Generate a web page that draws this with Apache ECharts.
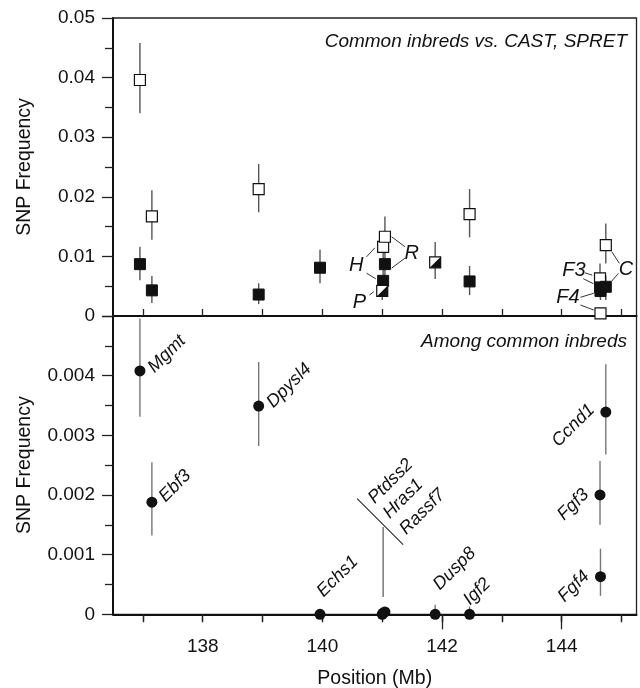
<!DOCTYPE html>
<html>
<head>
<meta charset="utf-8">
<script src="https://cdn.jsdelivr.net/npm/echarts@6/dist/echarts.min.js"></script>
<style>
  html, body { margin: 0; padding: 0; background: #fff; }
  #chart { width: 640px; height: 688px; }
</style>
</head>
<body>
<div id="chart"></div>
<script>
// genes along the chromosome, position in Mb
const genes = ['Mgmt', 'Ebf3', 'Dpysl4', 'Echs1', 'Ptdss2', 'Hras1', 'Rassf7', 'Dusp8', 'Igf2', 'Fgf4', 'Fgf3', 'Ccnd1']
const positions = [136.95, 137.15, 138.935, 139.96, 141.0, 141.015, 141.045, 141.885, 142.46, 144.648, 144.64, 144.737]

// top panel: common inbreds vs CAST (open squares)
const castFreq = [0.0396, 0.0167, 0.0213, null, null, 0.0116, 0.0133, null, 0.0171, 0.00045, 0.0063, 0.0119]
const castLow  = [0.0340, 0.0128, 0.0174, null, null, 0.0093, 0.0105, null, 0.0132, 0.0001, 0.0042, 0.0088]
const castHigh = [0.0458, 0.0211, 0.0255, null, null, 0.0142, 0.0167, null, 0.0213, 0.0010, 0.0088, 0.0155]
// vs SPRET (filled squares)
const spretFreq = [0.0087, 0.0043, 0.0036, 0.0081, null, 0.0059, 0.0087, null, 0.0058, 0.0042, 0.0048, 0.0049]
const spretLow  = [0.0060, 0.0022, 0.0020, 0.0055, null, 0.0040, 0.0064, null, 0.0035, 0.0027, 0.0031, 0.0027]
const spretHigh = [0.0116, 0.0067, 0.0055, 0.0111, null, 0.0083, 0.0113, null, 0.0084, 0.0061, 0.0067, 0.0068]
// same value for both (half-filled squares)
const bothFreq = [null, null, null, null, 0.0042, null, null, 0.0090, null, null, null, null]
const bothLow  = [null, null, null, null, 0.0027, null, null, 0.0062, null, null, null, null]
const bothHigh = [null, null, null, null, 0.0060, null, null, 0.0124, null, null, null, null]

// bottom panel: among common inbreds
const inbredFreq = [0.00408, 0.00188, 0.00349, 0, 0, 0.00002, 0.00004, 0, 0, 0.00063, 0.0020, 0.00339]
const inbredLow  = [0.00331, 0.00132, 0.00282, null, null, null, null, 0, 0, 0.00031, 0.0015, 0.00268]
const inbredHigh = [0.00496, 0.00255, 0.00423, null, null, null, null, 0.00016, 0.00013, 0.0011, 0.00257, 0.00419]

const xTicks = [137, 138, 139, 140, 141, 142, 143, 144, 145]
const xLabels = [138, 140, 142, 144]
const xLongTicks = [142, 144]

const FONT = '"Liberation Sans", Arial, Helvetica, sans-serif'

const chart = echarts.init(document.getElementById('chart'))

function points(vals) {
  const out = []
  genes.forEach((g, i) => { if (vals[i] != null) out.push({ name: g, value: [positions[i], vals[i]] }) })
  return out
}
function bars(low, high) {
  const out = []
  genes.forEach((g, i) => { if (low[i] != null) out.push([positions[i], low[i], high[i]]) })
  return out
}
function errorSeries(data, xIdx, yIdx, color) {
  return {
    type: 'custom', xAxisIndex: xIdx, yAxisIndex: yIdx, z: 1,
    data: data,
    renderItem: (params, api) => {
      const lo = api.coord([api.value(0), api.value(1)])
      const hi = api.coord([api.value(0), api.value(2)])
      return { type: 'line', shape: { x1: lo[0], y1: lo[1], x2: hi[0], y2: hi[1] }, style: { stroke: color, lineWidth: 1.4 } }
    }
  }
}

const xBase = { type: 'value', min: 136.5, max: 145.25, splitLine: { show: false } }
const yLabel = { color: '#111', fontSize: 19, fontFamily: FONT, margin: 18, showMinLabel: true }
const yName = { color: '#111', fontSize: 19.5, fontFamily: FONT }

const option = {
  animation: false,
  backgroundColor: '#fff',
  grid: [
    { left: 113, top: 18, width: 523.5, height: 298, show: true, borderColor: '#222', borderWidth: 1.3, outerBoundsMode: 'none' },
    { left: 113, top: 316, width: 523.5, height: 298.3, show: true, borderColor: '#222', borderWidth: 1.3, outerBoundsMode: 'none' }
  ],
  xAxis: [
    Object.assign({}, xBase, {
      gridIndex: 0, position: 'bottom',
      axisLine: { lineStyle: { color: '#111', width: 2 } },
      axisLabel: { show: false },
      axisTick: { inside: true, length: 7, customValues: xTicks, lineStyle: { color: '#222', width: 1.3 } }
    }),
    Object.assign({}, xBase, {
      gridIndex: 1, position: 'top',
      axisLine: { show: false },
      axisLabel: { show: false },
      axisTick: { inside: true, length: 7, customValues: xTicks, lineStyle: { color: '#222', width: 1.3 } }
    }),
    Object.assign({}, xBase, {
      gridIndex: 1, position: 'bottom',
      name: 'Position (Mb)', nameLocation: 'middle', nameGap: 54, nameTextStyle: yName,
      axisLine: { lineStyle: { color: '#111', width: 2 } },
      axisLabel: { customValues: xLabels, color: '#111', fontSize: 19, fontFamily: FONT, margin: 23 },
      axisTick: { length: 8, customValues: xTicks, lineStyle: { color: '#222', width: 1.3 } }
    }),
    Object.assign({}, xBase, {
      gridIndex: 1, position: 'bottom',
      axisLine: { show: false },
      axisLabel: { show: false },
      axisTick: { length: 15, customValues: xLongTicks, lineStyle: { color: '#222', width: 1.3 } }
    })
  ],
  yAxis: [
    {
      gridIndex: 0, type: 'value', min: 0, max: 0.05, interval: 0.01,
      name: 'SNP Frequency', nameLocation: 'middle', nameGap: 78, nameTextStyle: yName,
      splitLine: { show: false },
      axisLine: { show: true, lineStyle: { color: '#111', width: 2 } },
      axisTick: { show: true, length: 11, lineStyle: { color: '#222', width: 1.3 } },
      minorTick: { show: true, splitNumber: 2, length: 8, lineStyle: { color: '#222', width: 1.3 } },
      axisLabel: Object.assign({}, yLabel, { showMaxLabel: true, formatter: v => v === 0 ? '0' : v.toFixed(2) })
    },
    {
      gridIndex: 1, type: 'value', min: 0, max: 0.005, interval: 0.001,
      name: 'SNP Frequency', nameLocation: 'middle', nameGap: 78, nameTextStyle: yName,
      splitLine: { show: false },
      axisLine: { show: true, lineStyle: { color: '#111', width: 2 } },
      axisTick: { show: true, length: 11, lineStyle: { color: '#222', width: 1.3 } },
      minorTick: { show: true, splitNumber: 2, length: 8, lineStyle: { color: '#222', width: 1.3 } },
      axisLabel: Object.assign({}, yLabel, { showMaxLabel: false, formatter: v => v === 0 ? '0' : v.toFixed(3) })
    }
  ],
  series: [
    errorSeries(bars(castLow, castHigh), 0, 0, '#555'),
    errorSeries(bars(spretLow, spretHigh), 0, 0, '#555'),
    errorSeries(bars(bothLow, bothHigh), 0, 0, '#555'),
    errorSeries(bars(inbredLow, inbredHigh), 2, 1, '#777'),
    {
      name: 'CAST', type: 'scatter', xAxisIndex: 0, yAxisIndex: 0, z: 3,
      symbol: 'rect', symbolSize: 11, data: points(castFreq),
      itemStyle: { color: '#fff', borderColor: '#111', borderWidth: 1.2, opacity: 1 }
    },
    {
      name: 'SPRET', type: 'scatter', xAxisIndex: 0, yAxisIndex: 0, z: 4,
      symbol: 'rect', symbolSize: 11, data: points(spretFreq),
      itemStyle: { color: '#111', borderColor: '#111', borderWidth: 1, opacity: 1 }
    },
    {
      name: 'both', type: 'scatter', xAxisIndex: 0, yAxisIndex: 0, z: 5,
      symbol: 'rect', symbolSize: 11, data: points(bothFreq),
      itemStyle: { color: '#fff', borderColor: '#111', borderWidth: 1.2, opacity: 1 }
    },
    {
      name: 'bothHalf', type: 'scatter', xAxisIndex: 0, yAxisIndex: 0, z: 6,
      symbol: 'path://M10,0L10,10L0,10Z', symbolSize: 11, data: points(bothFreq),
      itemStyle: { color: '#111', opacity: 1 }
    },
    {
      name: 'inbreds', type: 'scatter', xAxisIndex: 2, yAxisIndex: 1, z: 5,
      symbol: 'circle', symbolSize: 11, data: points(inbredFreq),
      itemStyle: { color: '#111', opacity: 1 }
    }
  ]
}

chart.setOption(option)

// ---- annotations, laid out in pixels relative to the points ----
const topSets = { cast: castFreq, spret: spretFreq, both: bothFreq }
function topPx(set, gene) {
  const i = genes.indexOf(gene)
  return chart.convertToPixel({ xAxisIndex: 0, yAxisIndex: 0 }, [positions[i], topSets[set][i]])
}
function botPx(gene) {
  const i = genes.indexOf(gene)
  return chart.convertToPixel({ xAxisIndex: 2, yAxisIndex: 1 }, [positions[i], inbredFreq[i]])
}

const topNotes = [
  { text: 'H', ref: ['cast', 'Hras1'], at: [-26.8, 18.3],
    leaders: [[['cast', 'Hras1'], [-16.6, 10], [-8.3, 1]], [['spret', 'Hras1'], [-16.6, -7.7], [-7.3, -2]]] },
  { text: 'R', ref: ['cast', 'Rassf7'], at: [26.7, 16.6],
    leaders: [[['cast', 'Rassf7'], [6.7, 0], [20, 10]], [['spret', 'Rassf7'], [6.7, 4], [20, -6]]] },
  { text: 'P', ref: ['both', 'Ptdss2'], at: [-22.7, 11.5],
    leaders: [[['both', 'Ptdss2'], [-12.7, 4], [-8.4, 0.7]]] },
  { text: 'C', ref: ['cast', 'Ccnd1'], at: [20.1, 24.2],
    leaders: [[['cast', 'Ccnd1'], [6, 6.7], [13.6, 18.3]], [['spret', 'Ccnd1'], [5.3, -5], [12.6, -13.4]]] },
  { text: 'F3', ref: ['cast', 'Fgf3'], at: [-26, -8.3],
    leaders: [[['cast', 'Fgf3'], [-15, -5.6], [-7.7, -3.3]], [['spret', 'Fgf3'], [-16.7, -8.7], [-6.7, -3.7]]] },
  { text: 'F4', ref: ['cast', 'Fgf4'], at: [-32.5, -15.8],
    leaders: [[['spret', 'Fgf4'], [-20, 6.3], [-6.7, 2.3]], [['cast', 'Fgf4'], [-20, -8.3], [-6.7, -3.3]]] }
]

// bottom gene labels: text runs at 45 degrees from an anchor offset from the point
const geneNotes = [
  ['Mgmt', 'left', 11, -1], ['Ebf3', 'left', 10, -3], ['Dpysl4', 'left', 11, -1],
  ['Echs1', 'left', 0, -20], ['Dusp8', 'left', 1, -27], ['Igf2', 'left', -3, -12],
  ['Ccnd1', 'right', -14, -5], ['Fgf3', 'right', -14, -3], ['Fgf4', 'right', -14, -3]
]
const groupNotes = [['Ptdss2', -12, -112.3], ['Hras1', 3, -97.3], ['Rassf7', 19.6, -81.3]]

function line(x1, y1, x2, y2, color, w) {
  return { type: 'line', silent: true, z: 10, shape: { x1, y1, x2, y2 }, style: { stroke: color, lineWidth: w } }
}
function text(x, y, str, size, align, rot) {
  return {
    type: 'text', silent: true, z: 10, x, y, rotation: rot || 0,
    style: { text: str, fill: '#111', font: 'italic ' + size + 'px ' + FONT, align, verticalAlign: 'middle' }
  }
}

const graphics = []
graphics.push(text(627, 42, 'Common inbreds vs. CAST, SPRET', 19, 'right'))
graphics.push(text(627, 342, 'Among common inbreds', 19, 'right'))

topNotes.forEach(n => {
  const p = topPx(n.ref[0], n.ref[1])
  graphics.push(text(p[0] + n.at[0], p[1] + n.at[1], n.text, 20, 'center'))
  n.leaders.forEach(l => {
    const q = topPx(l[0][0], l[0][1])
    graphics.push(line(q[0] + l[1][0], q[1] + l[1][1], q[0] + l[2][0], q[1] + l[2][1], '#333', 1))
  })
})

geneNotes.forEach(n => {
  const p = botPx(n[0])
  graphics.push(text(p[0] + n[2], p[1] + n[3], n[0], 18, n[1], Math.PI / 4))
})

const hp = botPx('Hras1')
groupNotes.forEach(n => graphics.push(text(hp[0] + n[1], hp[1] + n[2], n[0], 18, 'left', Math.PI / 4)))
graphics.push(line(hp[0] - 26, hp[1] - 114.4, hp[0] + 20, hp[1] - 68.4, '#222', 1.1))
graphics.push(line(hp[0], hp[1] - 86, hp[0], hp[1] - 16, '#555', 1.2))

chart.setOption({ graphic: graphics })
</script>
</body>
</html>
